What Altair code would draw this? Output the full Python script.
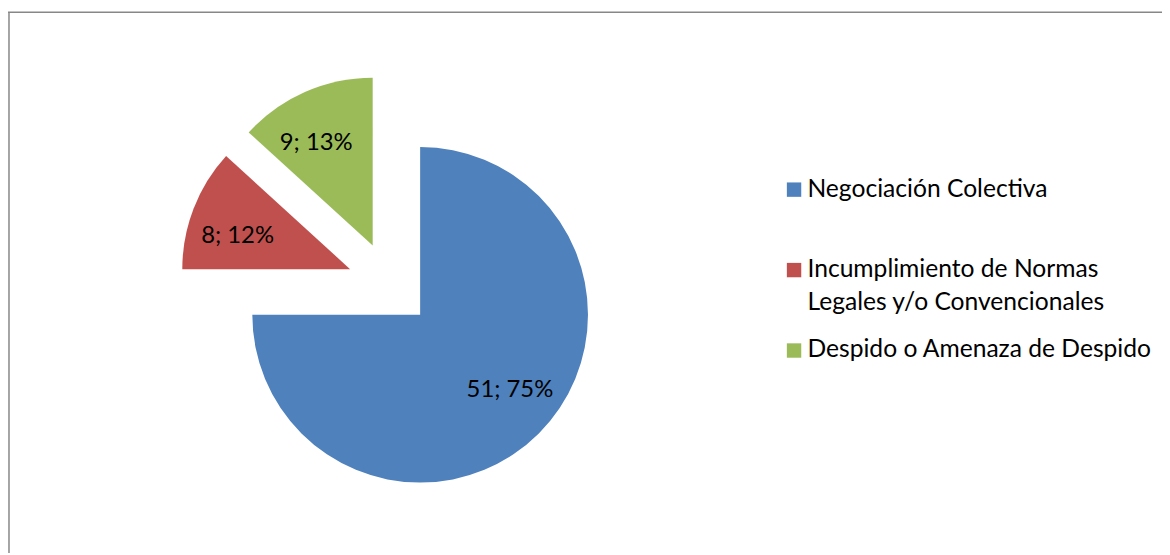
import math
import altair as alt
import pandas as pd

# ---- data ----
categories = [
    "Negociación Colectiva",
    "Incumplimiento de Normas Legales y/o Convencionales",
    "Despido o Amenaza de Despido",
]
legend_labels = [
    "Negociación Colectiva",
    "Incumplimiento de Normas|Legales y/o Convencionales",
    "Despido o Amenaza de Despido",
]
values = [51, 8, 9]
colors = ["#4F81BD", "#C0504D", "#9BBB59"]
title_text = "Octubre – Diciembre 2013"

df = pd.DataFrame({
    "categoria": categories,
    "leyenda": legend_labels,
    "valor": values,
    "orden": list(range(len(categories))),
})

# ---- layout / style constants ----
W, H = 1162, 547
CX, CY = 384.6, 276.6      # pie centre (plot coords)
R = 169                    # pie radius
EXPLODE = 43               # explosion distance of every slice
LABEL_R = 118              # label distance from slice apex
LABEL_ROT = -5 * math.pi / 180   # small angular shift of the data labels
FONT = "Lato"
FRAME = "#878787"
LEG_SYM_X, LEG_TXT_X = 791.5, 805
LEG_Y0, LEG_STEP = 181, 81

color_scale = alt.Scale(domain=categories, range=colors)

base = (
    alt.Chart(df)
    .transform_joinaggregate(total="sum(valor)")
    .transform_window(cum="sum(valor)", sort=[alt.SortField("orden")], frame=[None, 0])
    .transform_calculate(
        t0="(datum.cum - datum.valor) / datum.total",
        t1="datum.cum / datum.total",
        mid="(datum.cum - datum.valor / 2) / datum.total * 2 * PI",
        cx=f"{CX} + {EXPLODE} * sin(datum.mid)",
        cy=f"{CY} - {EXPLODE} * cos(datum.mid)",
        lx=f"datum.cx + {LABEL_R} * sin(datum.mid + {LABEL_ROT})",
        ly=f"datum.cy - {LABEL_R} * cos(datum.mid + {LABEL_ROT})",
        etiqueta="datum.valor + '; ' + format(datum.valor / datum.total, '.0%')",
    )
)

arcs = base.mark_arc(radius=R, stroke=None).encode(
    theta=alt.Theta("t0:Q", scale=alt.Scale(domain=[0, 1], range=[0, 2 * math.pi])),
    theta2="t1:Q",
    x=alt.X("cx:Q", scale=None),
    y=alt.Y("cy:Q", scale=None),
    color=alt.Color("categoria:N", sort=None, scale=color_scale, legend=None),
)

labels = base.mark_text(font=FONT, fontSize=24, color="black", align="center", baseline="middle").encode(
    x=alt.X("lx:Q", scale=None),
    y=alt.Y("ly:Q", scale=None),
    text="etiqueta:N",
)

# ---- legend (drawn as marks so the wrapped entry gets Excel-like line spacing) ----
leg_base = alt.Chart(df).transform_calculate(
    ley_y=f"{LEG_Y0} + datum.orden * {LEG_STEP}",
    lineas="split(datum.leyenda, '|')",
)
leg_sym = leg_base.mark_square(size=210, opacity=1, strokeWidth=0).encode(
    x=alt.value(LEG_SYM_X),
    y=alt.Y("ley_y:Q", scale=None),
    color=alt.Color("categoria:N", sort=None, scale=color_scale, legend=None),
)
leg_txt = leg_base.mark_text(
    font=FONT, fontSize=24.8, color="black", align="left", baseline="middle", lineHeight=33
).encode(
    x=alt.value(LEG_TXT_X),
    y=alt.Y("ley_y:Q", scale=None),
    text="lineas:N",
)

one = alt.Data(values=[{}])
top_rule = alt.Chart(one).mark_rule(color=FRAME, strokeWidth=1.5).encode(
    x=alt.value(0), x2=alt.value(W), y=alt.value(2.5)
)
left_rule = alt.Chart(one).mark_rule(color=FRAME, strokeWidth=1.5).encode(
    x=alt.value(1), y=alt.value(2.5), y2=alt.value(H)
)

chart = (
    alt.layer(top_rule, left_rule, arcs, labels, leg_sym, leg_txt)
    .properties(
        width=W,
        height=H,
        autosize=alt.AutoSizeParams(type="none"),
        padding=0,
        background="white",
        title=alt.Title(title_text, font=FONT, fontSize=22, fontWeight="bold", anchor="middle", color="black"),
    )
    .configure_view(stroke=None)
)

chart.save("out.html", embed_options={"renderer": "svg", "actions": False})
